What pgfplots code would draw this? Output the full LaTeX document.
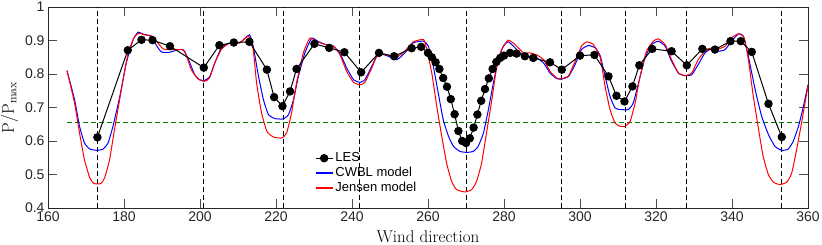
\documentclass[border=0pt]{standalone}
\usepackage{pgfplots}
\pgfplotsset{compat=1.18}
\usepackage{fontspec}
\newfontfamily\helv{Liberation Sans}
\definecolor{dgreen}{rgb}{0,0.5,0}
\definecolor{jred}{rgb}{1,0,0}
\definecolor{cblue}{rgb}{0,0,1}
\begin{document}
\begin{tikzpicture}
\path[use as bounding box] (-48pt,-36pt) rectangle (774pt,208pt);
\begin{axis}[
  scale only axis, width=760pt, height=201pt,
  xmin=160, xmax=360, ymin=0.4, ymax=1,
  xtick={160,180,...,360},
  ytick={0.4,0.5,0.6,0.7,0.8,0.9,1},
  yticklabels={0.4,0.5,0.6,0.7,0.8,0.9,1},
  tick align=inside, major tick length=9pt,
  axis line style={black!85, line width=0.7pt},
  tick style={black!70, line width=0.7pt},
  ticklabel style={font=\helv\fontsize{14}{16}\selectfont, text=black!85},
  /pgf/number format/assume math mode=true,
  label style={font=\fontsize{17}{20}\selectfont},
  xlabel={Wind direction},
  ylabel={$\mathrm{P/P_{max}}$},
  xlabel style={yshift=-2pt},
  legend style={draw=none, fill=none, at={(0.347,0.295)}, anchor=north west,
    font=\helv\fontsize{13}{15}\selectfont},
  legend cell align=left,
]
\addlegendimage{black, line width=1pt, mark=*, mark size=3.7pt}
\addlegendentry{LES}
\addlegendimage{cblue, line width=1.2pt}
\addlegendentry{CWBL model}
\addlegendimage{jred, line width=1.4pt}
\addlegendentry{Jensen model}
% reference lines
\addplot[forget plot, black, line width=0.8pt, dash pattern=on 5pt off 3pt] coordinates {(173,0.4)(173,1)};
\addplot[forget plot, black, line width=0.8pt, dash pattern=on 5pt off 3pt] coordinates {(201,0.4)(201,1)};
\addplot[forget plot, black, line width=0.8pt, dash pattern=on 5pt off 3pt] coordinates {(222,0.4)(222,1)};
\addplot[forget plot, black, line width=0.8pt, dash pattern=on 5pt off 3pt] coordinates {(242,0.4)(242,1)};
\addplot[forget plot, black, line width=0.8pt, dash pattern=on 5pt off 3pt] coordinates {(270,0.4)(270,1)};
\addplot[forget plot, black, line width=0.8pt, dash pattern=on 5pt off 3pt] coordinates {(295,0.4)(295,1)};
\addplot[forget plot, black, line width=0.8pt, dash pattern=on 5pt off 3pt] coordinates {(312,0.4)(312,1)};
\addplot[forget plot, black, line width=0.8pt, dash pattern=on 5pt off 3pt] coordinates {(328,0.4)(328,1)};
\addplot[forget plot, black, line width=0.8pt, dash pattern=on 5pt off 3pt] coordinates {(353,0.4)(353,1)};
\addplot[forget plot, dgreen, line width=0.8pt, dash pattern=on 5pt off 3pt] coordinates {(165,0.655)(360,0.655)};
% CWBL
\addplot[forget plot, cblue, line width=1pt, smooth, tension=0.3] coordinates {
(165,0.810)(167,0.723)(168.3,0.644)(169.6,0.594)(171,0.576)(173,0.572)(174.5,0.576)(175.8,0.594)
(177.1,0.644)(178.9,0.733)(180.6,0.833)(182.4,0.902)(183.7,0.925)(185,0.919)(186.8,0.914)(188.1,0.893)
(189.8,0.866)(192,0.865)(193.8,0.871)(195.5,0.873)(196.8,0.848)(198.6,0.798)(199.9,0.783)(201.2,0.781)
(202.5,0.791)(203.9,0.833)(205.6,0.878)(207.4,0.891)(209.1,0.893)(210.5,0.893)(213,0.917)(214,0.883)
(215.4,0.793)(216.7,0.723)(218,0.679)(219.7,0.667)(221.9,0.666)(223.3,0.679)(224.6,0.723)(225.9,0.793)
(227.6,0.863)(229.4,0.907)(231.1,0.897)(233.3,0.887)(235.1,0.882)(236.8,0.863)(238.6,0.818)(240.4,0.783)
(242.1,0.775)(243.4,0.783)(245.2,0.823)(246.9,0.860)(249.1,0.855)(251.8,0.843)(253.9,0.863)(256.1,0.893)
(258.8,0.898)(260.1,0.883)(261.4,0.823)(262.7,0.743)(264,0.664)(265.4,0.614)(266.7,0.584)(268.4,0.569)
(270.2,0.566)(271.9,0.569)(273.2,0.584)(274.6,0.624)(275.9,0.694)(277.2,0.773)(278.5,0.843)(279.8,0.883)
(281.1,0.896)(282.5,0.883)(284.2,0.863)(286.4,0.853)(288.6,0.848)(290.4,0.833)(292.1,0.803)(293.9,0.786)
(295.2,0.785)(297,0.793)(298.7,0.828)(300.4,0.873)(302.2,0.885)(304,0.878)(305.3,0.855)(306.6,0.793)
(307.9,0.733)(309.2,0.699)(310.5,0.694)(312.7,0.694)(314,0.713)(315.4,0.773)(317.1,0.848)(318.9,0.888)
(320.6,0.898)(322.4,0.883)(324.1,0.838)(325.9,0.803)(327.6,0.795)(329.4,0.798)(331.1,0.828)(332.9,0.863)
(334.6,0.875)(336.4,0.868)(338.2,0.873)(339.9,0.898)(341.7,0.920)(343,0.913)(344.3,0.853)(346.1,0.753)
(347.8,0.674)(349.6,0.619)(351.3,0.584)(353.1,0.572)(354.8,0.576)(356.1,0.599)(357.5,0.644)(358.8,0.704)
(360,0.768)
};
% Jensen
\addplot[forget plot, jred, line width=1pt, smooth, tension=0.3] coordinates {
(165,0.810)(167,0.713)(168.3,0.624)(169.6,0.544)(171,0.490)(172.1,0.473)(173.9,0.473)(174.9,0.490)
(176.2,0.544)(177.5,0.634)(179.3,0.753)(181.1,0.863)(182.8,0.912)(184.1,0.922)(185.4,0.917)(187.2,0.914)
(188.5,0.898)(190.3,0.875)(192.5,0.873)(194.6,0.873)(196,0.868)(197.7,0.813)(199.5,0.785)(201.2,0.778)
(202.5,0.788)(203.9,0.833)(205.6,0.873)(207.4,0.890)(209.1,0.895)(210.5,0.893)(212.7,0.913)(213.9,0.883)
(214.9,0.773)(216.2,0.684)(217.6,0.629)(219.3,0.612)(221.5,0.609)(222.8,0.624)(224.1,0.684)(225.4,0.773)
(227.2,0.863)(228.9,0.907)(230.7,0.897)(233.3,0.887)(235.1,0.884)(236.8,0.858)(238.6,0.808)(240.4,0.775)
(242.1,0.768)(243.4,0.775)(245.2,0.818)(246.9,0.860)(249.1,0.857)(251.8,0.851)(253.9,0.868)(256.1,0.896)
(258.8,0.903)(259.6,0.878)(261,0.803)(262.3,0.704)(263.6,0.615)(264.9,0.534)(266.2,0.480)(267.5,0.455)
(269.7,0.448)(271.5,0.455)(272.8,0.480)(274.1,0.534)(275.4,0.624)(276.8,0.723)(278.1,0.823)(279.4,0.873)
(281.1,0.901)(282.9,0.888)(285.1,0.863)(286.8,0.863)(288.6,0.857)(290.4,0.843)(292.1,0.808)(293.9,0.788)
(295.2,0.786)(297,0.795)(298.7,0.838)(300.4,0.883)(301.8,0.896)(303.5,0.888)(305.3,0.850)(306.6,0.763)
(307.9,0.694)(309.2,0.654)(310.5,0.644)(311.8,0.644)(313.2,0.659)(314.5,0.713)(315.8,0.793)(317.5,0.868)
(319.3,0.898)(320.6,0.905)(322.4,0.888)(324.1,0.843)(325.9,0.803)(327.6,0.795)(329.4,0.803)(331.1,0.843)
(332.9,0.868)(334.6,0.878)(336.4,0.875)(338.2,0.883)(339.9,0.908)(341.7,0.920)(343.2,0.908)(344.3,0.843)
(345.6,0.734)(347,0.634)(348.2,0.554)(349.6,0.499)(350.9,0.477)(352.6,0.470)(354.4,0.477)(355.7,0.504)
(357,0.574)(358.3,0.654)(360,0.765)
};
% LES
\addplot[forget plot, black, line width=1pt, mark=*, mark size=3.7pt, mark options={solid}] coordinates {
(173,0.611)(181,0.871)(184.6,0.902)(187.5,0.901)(192.1,0.883)(201,0.819)(205.1,0.886)(208.9,0.894)
(213,0.896)(217.6,0.813)(219.5,0.731)(221.7,0.704)(223.7,0.748)(225.4,0.815)(230.1,0.890)(234,0.878)
(238,0.865)(242.4,0.805)(247.1,0.863)(251.1,0.853)(255.7,0.877)(258.2,0.881)
(260,0.863)(261,0.850)(262,0.835)(263,0.815)(264,0.788)(265,0.762)(266,0.725)(267,0.680)(268,0.630)
(269,0.600)(270,0.594)(271,0.608)(272,0.640)(273,0.679)(274,0.720)(275,0.755)(276,0.787)(277,0.815)
(278,0.836)(279,0.848)(280,0.855)(281.6,0.863)(283.3,0.861)(285.5,0.853)(287.7,0.848)(292.1,0.835)
(295.2,0.813)(300,0.855)(303.8,0.857)(307.5,0.793)(309.6,0.735)(311.7,0.718)(313.8,0.763)(315.6,0.826)
(319,0.875)(324.1,0.868)(328.1,0.826)(332.2,0.875)(335.5,0.873)(339.6,0.898)(342.3,0.898)(345.2,0.866)
(349.6,0.711)(353.1,0.612)
};
\end{axis}
\end{tikzpicture}
\end{document}
